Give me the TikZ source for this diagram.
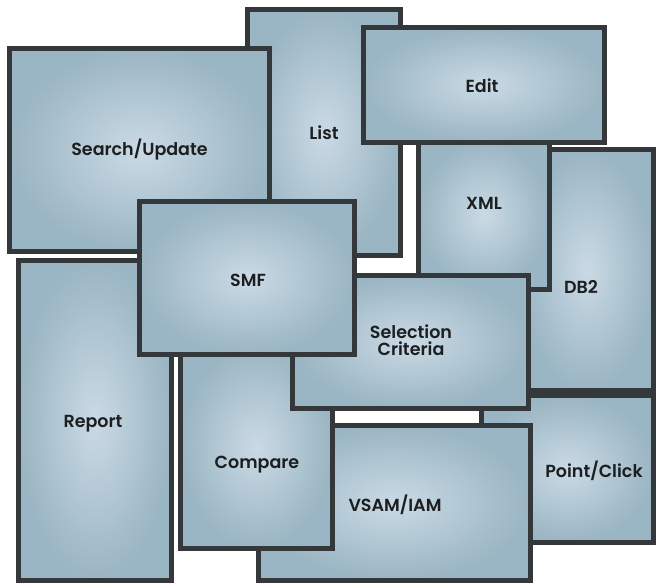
\documentclass[tikz,border=0pt]{standalone}
\usepackage{fontspec}
\setmainfont{Poppins}[UprightFont=* SemiBold]
\usetikzlibrary{positioning}

\definecolor{tileborder}{HTML}{35383A}
\definecolor{tileedge}{HTML}{9AB5C3}
\definecolor{tilecenter}{HTML}{CADAE5}
\definecolor{tiletext}{HTML}{1C1E20}

\tikzset{
  tile/.style={draw=tileborder, line width=5pt, inner color=tilecenter, outer color=tileedge},
  lbl/.style={anchor=base, inner sep=0pt, text=tiletext, font=\fontsize{17.5}{19}\selectfont, align=center}
}

\begin{document}
\begin{tikzpicture}[x=1pt,y=-1pt]
\useasboundingbox (0,0) rectangle (656,583);

\shadedraw[tile] (247.5,9.5) rectangle (400.5,255.5);
\shadedraw[tile] (9.5,48.5) rectangle (269.5,251.5);
\shadedraw[tile] (520,149.5) rectangle (653.5,390.5);
\shadedraw[tile] (418.5,140) rectangle (549.5,289.5);
\shadedraw[tile] (363.5,27.5) rectangle (604.5,142.5);
\shadedraw[tile] (481.5,395.5) rectangle (653.5,542.5);
\shadedraw[tile] (258.5,425.5) rectangle (530.5,580.5);
\shadedraw[tile] (180.5,345) rectangle (332.5,548.5);
\shadedraw[tile] (292.5,275.5) rectangle (528.5,408.5);
\shadedraw[tile] (18.5,260.5) rectangle (171.5,580.5);
\shadedraw[tile] (139.5,201.5) rectangle (354.5,354.5);

\node[lbl] (list) at (324,140) {List};
\node[lbl] (search) at (139.5,156) {Search/Update};
\node[lbl] (db2) at (581,293) {DB2};
\node[lbl] (xml) at (484,209) {XML};
\node[lbl] (edit) at (482,93) {Edit};
\node[lbl] (point) at (594,477) {Point/Click};
\node[lbl] (vsam) at (395,511) {VSAM/IAM};
\node[lbl] (compare) at (257,468) {Compare};
\node[lbl] (select) at (411,338) {Selection};
\node[lbl] (criteria) at (411,355) {Criteria};
\node[lbl] (report) at (93,427) {Report};
\node[lbl] (smf) at (248,286) {SMF};
\end{tikzpicture}
\end{document}
